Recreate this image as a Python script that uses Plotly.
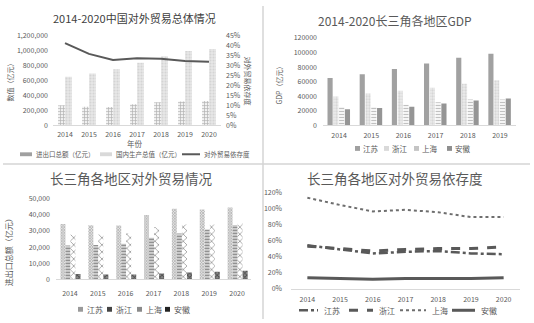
import plotly.graph_objects as go

W, H = 534, 323
FONT = "Noto Sans CJK SC"
GRAY = "#595959"

# ---------- data ----------
years7 = ["2014", "2015", "2016", "2017", "2018", "2019", "2020"]
years6 = ["2014", "2015", "2016", "2017", "2018", "2019"]
regions = ["江苏", "浙江", "上海", "安徽"]
cn_names = ["进出口总额（亿元）", "国内生产总值（亿元）", "对外贸易依存度"]

# Panel 1: China
cn_trade = [264000, 245500, 243400, 278100, 305000, 315600, 322200]
cn_gdp = [644000, 689000, 746400, 832000, 919300, 986500, 1016000]
cn_dep = [0.410, 0.356, 0.326, 0.334, 0.332, 0.320, 0.317]

# Panel 2: regional GDP
gdp_js = [65100, 70100, 77400, 85000, 92800, 98200]
gdp_zj = [39500, 43500, 47300, 51600, 57000, 61800]
gdp_sh = [25000, 25200, 28200, 31500, 35500, 35500]
gdp_ah = [22000, 23500, 25500, 29800, 34000, 36900]

# Panel 3: regional trade
tr_js = [34300, 33600, 33500, 39900, 43800, 43400, 44600]
tr_zj = [21000, 21300, 22100, 25800, 28400, 30900, 33700]
tr_sh = [27800, 27800, 28600, 32300, 34000, 34100, 34800]
tr_ah = [3200, 3000, 2900, 3600, 4200, 4700, 5300]

# Panel 4: dependency
dep_js = [0.54, 0.49, 0.44, 0.46, 0.47, 0.44, 0.43]
dep_zj = [0.53, 0.50, 0.47, 0.49, 0.50, 0.50, 0.52]
dep_sh = [1.13, 1.04, 0.96, 0.98, 0.95, 0.89, 0.89]
dep_ah = [0.14, 0.13, 0.12, 0.13, 0.13, 0.13, 0.14]


def px_x(p):
    return p / W


def px_y(p):
    return 1 - p / H


fig = go.Figure()

# ---- Panel 1 ----
fig.add_trace(go.Bar(x=years7, y=cn_trade, name=cn_names[0], xaxis="x", yaxis="y",
                     width=0.29, offset=-0.29,
                     marker=dict(color="white", line=dict(width=0),
                                 pattern=dict(shape="+", fgcolor="#6f6f6f", bgcolor="#f2f2f2", size=3, solidity=0.4))))
fig.add_trace(go.Bar(x=years7, y=cn_gdp, name=cn_names[1], xaxis="x", yaxis="y",
                     width=0.29, offset=0.0,
                     marker=dict(color="#e0e0e0", line=dict(width=0),
                                 pattern=dict(shape=".", fgcolor="#bdbdbd", bgcolor="#e8e8e8", size=3, solidity=0.4))))
fig.add_trace(go.Scatter(x=years7, y=cn_dep, name=cn_names[2], xaxis="x", yaxis="y2",
                         mode="lines", line=dict(color="#595959", width=2)))

# ---- Panel 2 ----
p2_pats = [
    dict(shape=".", fgcolor="#8c8c8c", bgcolor="#a6a6a6", size=2, solidity=0.5),
    dict(shape=".", fgcolor="#bfbfbf", bgcolor="#ececec", size=3, solidity=0.45),
    dict(shape="-", fgcolor="#8c8c8c", bgcolor="#f5f5f5", size=3, solidity=0.35),
    dict(shape=".", fgcolor="#858585", bgcolor="#999999", size=2, solidity=0.5),
]
p2_offs = [-0.36, -0.18, 0.0, 0.18]
for vals, nm, off, pat in zip([gdp_js, gdp_zj, gdp_sh, gdp_ah], regions, p2_offs, p2_pats):
    fig.add_trace(go.Bar(x=years6, y=vals, name=nm, xaxis="x3", yaxis="y3", width=0.16, offset=off,
                         marker=dict(color="#aaaaaa", line=dict(width=0), pattern=pat)))

# ---- Panel 3 ----
p3_pats = [
    dict(shape="x", fgcolor="#5a5a5a", bgcolor="#e6e6e6", size=2, solidity=0.5),
    dict(shape="-", fgcolor="#1a1a1a", bgcolor="#f0f0f0", size=3, solidity=0.55),
    dict(shape="x", fgcolor="#3a3a3a", bgcolor="#ffffff", size=5, solidity=0.3),
    dict(shape="x", fgcolor="#111111", bgcolor="#8a8a8a", size=3, solidity=0.5),
]
p3_offs = [-0.34, -0.16, 0.02, 0.20]
for vals, nm, off, pat in zip([tr_js, tr_zj, tr_sh, tr_ah], regions, p3_offs, p3_pats):
    fig.add_trace(go.Bar(x=years7, y=vals, name=nm, xaxis="x4", yaxis="y4", width=0.18, offset=off,
                         marker=dict(color="#888888", line=dict(width=0), pattern=pat)))

# ---- Panel 4 ----
p4_lines = [
    dict(color="#595959", width=2.5, dash="dashdot"),
    dict(color="#595959", width=3, dash="dash"),
    dict(color="#6e6e6e", width=2, dash="dot"),
    dict(color="#595959", width=3, dash="solid"),
]
for vals, nm, ln in zip([dep_js, dep_zj, dep_sh, dep_ah], regions, p4_lines):
    fig.add_trace(go.Scatter(x=years7, y=vals, name=nm, xaxis="x5", yaxis="y5", mode="lines", line=ln))

tickf = dict(family=FONT, size=7, color=GRAY)
xcommon = dict(type="category", showgrid=False, showline=True, linecolor="#d9d9d9", linewidth=1,
               ticks="", tickfont=tickf, zeroline=False, fixedrange=True)
ycommon = dict(showgrid=False, showline=False, ticks="", tickfont=tickf, zeroline=False, fixedrange=True)

fig.update_layout(
    width=W, height=H, margin=dict(l=0, r=0, t=0, b=0),
    paper_bgcolor="white", plot_bgcolor="white",
    barmode="overlay", showlegend=False,
    font=dict(family=FONT, color=GRAY, size=7),
    xaxis=dict(domain=[px_x(53), px_x(221)], anchor="y", range=[-0.5, 6.5], ticklabelstandoff=2, **xcommon),
    yaxis=dict(domain=[px_y(123), px_y(30)], anchor="x", range=[0, 1200000], dtick=200000,
               tickformat=",", ticklabelstandoff=4, **ycommon),
    yaxis2=dict(overlaying="y", side="right", anchor="x", range=[0, 0.45], dtick=0.05,
                tickformat=".0%", ticklabelstandoff=4, **ycommon),
    xaxis3=dict(domain=[px_x(323), px_x(516)], anchor="y3", range=[-0.5, 5.5], ticklabelstandoff=3, **xcommon),
    yaxis3=dict(domain=[px_y(123), px_y(33)], anchor="x3", range=[0, 120000], dtick=20000,
                tickformat="d", ticklabelstandoff=5, **ycommon),
    xaxis4=dict(domain=[px_x(56), px_x(251)], anchor="y4", range=[-0.5, 6.5], ticklabelstandoff=7, **xcommon),
    yaxis4=dict(domain=[px_y(282), px_y(199)], anchor="x4", range=[0, 50000], dtick=10000,
                tickformat=",", ticklabelstandoff=5, **ycommon),
    xaxis5=dict(domain=[px_x(291), px_x(520)], anchor="y5", range=[-0.5, 6.5], ticklabelstandoff=4, **xcommon),
    yaxis5=dict(domain=[px_y(292), px_y(192)], anchor="x5", range=[0, 1.2], dtick=0.2,
                tickformat=".0%", ticklabelstandoff=8, **ycommon),
)

# ---------- compact legends (swatch + label), laid out like the original ----------
def text_at(txt, x, y, sz, ang=0, col=GRAY, anchor="center"):
    fig.add_annotation(text=txt, x=px_x(x), y=px_y(y), xref="paper", yref="paper",
                       showarrow=False, textangle=ang, xanchor=anchor, yanchor="middle",
                       font=dict(family=FONT, size=sz, color=col))


def rect_swatch(x0, x1, yc, h, color):
    fig.add_shape(type="rect", xref="paper", yref="paper", x0=px_x(x0), x1=px_x(x1),
                  y0=px_y(yc + h / 2), y1=px_y(yc - h / 2), fillcolor=color, line=dict(width=0))


def line_swatch(x0, x1, yc, ln):
    fig.add_shape(type="line", xref="paper", yref="paper", x0=px_x(x0), x1=px_x(x1),
                  y0=px_y(yc), y1=px_y(yc), line=ln)


# panel 1 legend
rect_swatch(20, 32, 153, 4, "#a0a0a0")
text_at(cn_names[0], 34, 153, 6.5, anchor="left")
rect_swatch(100, 112, 153, 4, "#d9d9d9")
text_at(cn_names[1], 114, 153, 6.5, anchor="left")
line_swatch(182, 200, 153, dict(color="#595959", width=2))
text_at(cn_names[2], 202, 153, 6.5, anchor="left")

# panel 2 legend
p2_sw = ["#a0a0a0", "#d9d9d9", "#c4c4c4", "#8f8f8f"]
for nm, xs, col in zip(regions, [355, 384, 414, 447], p2_sw):
    rect_swatch(xs, xs + 5, 147, 5, col)
    text_at(nm, xs + 6, 147, 7.5, anchor="left")

# panel 3 legend
p3_sw = ["#9a9a9a", "#444444", "#8a8a8a", "#222222"]
for nm, xs, col in zip(regions, [78, 107, 137, 165], p3_sw):
    rect_swatch(xs, xs + 5, 313, 5, col)
    text_at(nm, xs + 7, 313, 8, anchor="left")

# panel 4 legend
for nm, (x0, x1), ln in zip(regions, [(299, 318), (349, 373), (400, 426), (452, 475)], p4_lines):
    line_swatch(x0, x1, 314, ln)
    text_at(nm, x1 + 4, 314, 8, anchor="left")

# titles and axis titles
text_at("2014-2020中国对外贸易总体情况", 134, 12, 11, col="#404040")
text_at("2014-2020长三角各地区GDP", 395, 15, 12)
text_at("长三角各地区对外贸易情况", 131, 178, 13.5)
text_at("长三角各地区对外贸易依存度", 395, 177, 13.5)
text_at("数值（亿元）", 10, 77, 7, ang=-90)
text_at("年份", 135, 142, 7.5)
text_at("对外贸易依存度", 248, 77, 7, ang=90)
text_at("GDP（亿元）", 279, 80, 7, ang=-90)
text_at("进出口总额（亿元）", 8, 252, 8, ang=-90)

# panel separators
fig.add_shape(type="line", xref="paper", yref="paper", x0=px_x(263), x1=px_x(263), y0=0, y1=1,
              line=dict(color="#d4d4d4", width=1.5))
fig.add_shape(type="line", xref="paper", yref="paper", x0=px_x(3), x1=px_x(530), y0=px_y(163), y1=px_y(163),
              line=dict(color="#d4d4d4", width=1.5))

fig.write_html("out.html")
